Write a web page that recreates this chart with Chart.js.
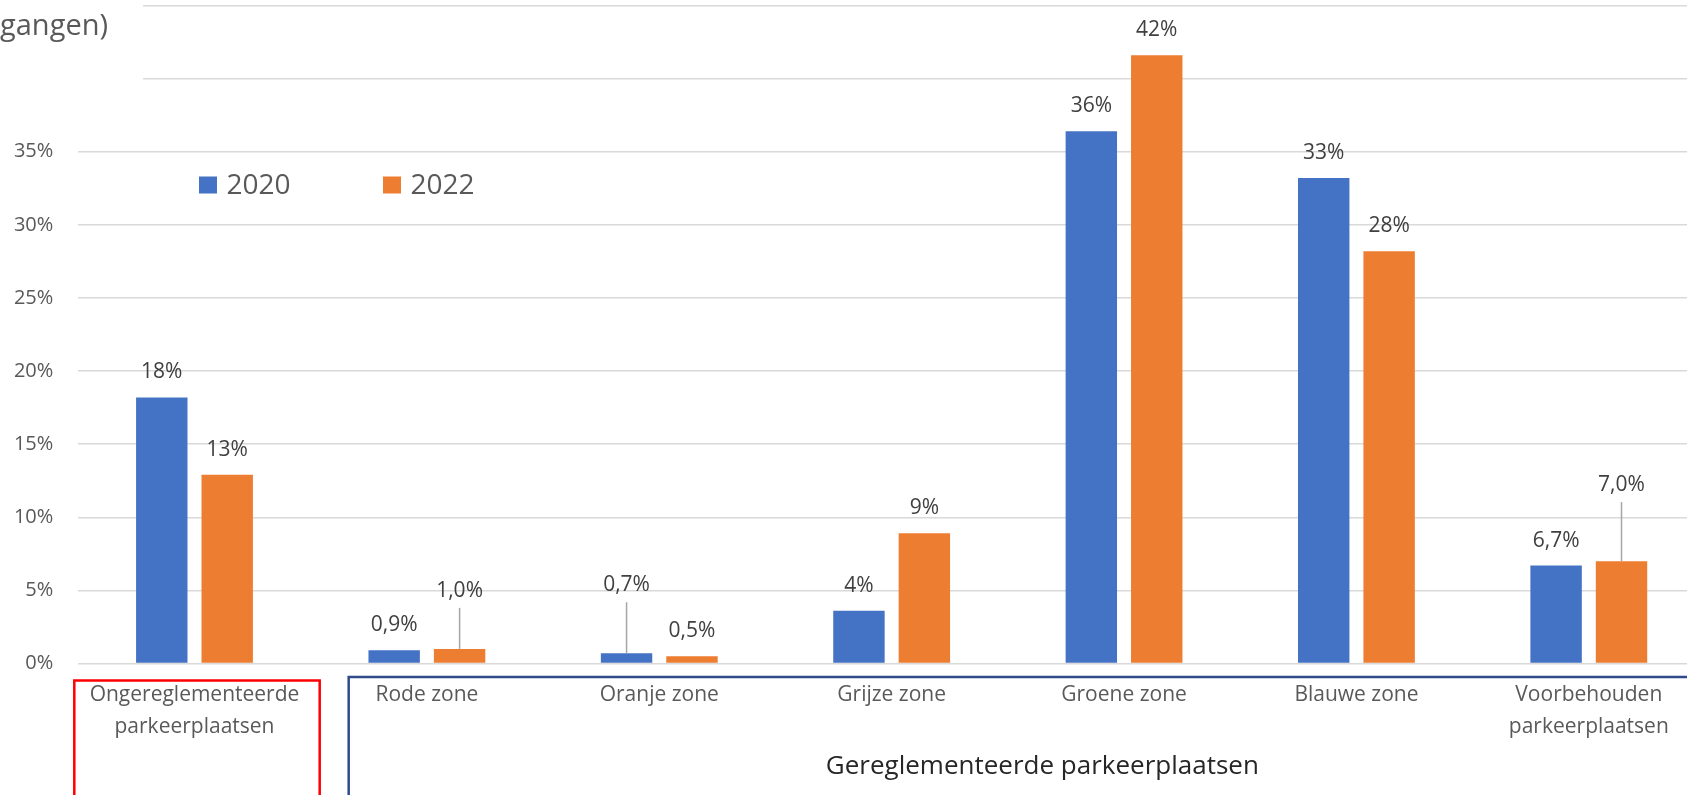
<!DOCTYPE html>
<html lang="nl">
<head>
<meta charset="utf-8">
<title>Parkeerplaatsen 2020 – 2022</title>
<script src="https://cdn.jsdelivr.net/npm/chart.js@4/dist/chart.umd.min.js"></script>
<style>
  html, body { margin: 0; padding: 0; background: #fff; overflow: hidden; width: 1687px; height: 795px; }
  #wrap { position: absolute; left: 0; top: -40px; width: 1705px; height: 835px; }
</style>
</head>
<body>
<div id="wrap"><canvas id="chart"></canvas></div>
<script>
// ---- data ----
const categories = [
  ['Ongereglementeerde', 'parkeerplaatsen'],
  'Rode zone',
  'Oranje zone',
  'Grijze zone',
  'Groene zone',
  'Blauwe zone',
  ['Voorbehouden', 'parkeerplaatsen']
];
const seriesNames = ['2020', '2022'];
const values2020 = [18.2, 0.9, 0.7, 3.6, 36.4, 33.2, 6.7];
const values2022 = [12.9, 1.0, 0.5, 8.9, 41.6, 28.2, 7.0];
const labelDecimals = [0, 1, 1, 0, 0, 0, 1];
const yTickValues = [0, 5, 10, 15, 20, 25, 30, 35, 40, 45];
const groupLabel = 'Gereglementeerde parkeerplaatsen';
const titleFragment = 'gangen)';

// ---- styling ----
const FONT = "'Open Sans', 'Noto Sans', sans-serif";
const GREY = '#595959';
const COLORS = ['#4472C4', '#ED7D31'];

const pct = (v, d) => v.toFixed(d).replace('.', ',') + '%';

// labels that sit higher with a thin leader line: [dataset, index, lift above bar top]
const leaders = [
  { ds: 1, idx: 1, lift: 58 },
  { ds: 0, idx: 2, lift: 68 },
  { ds: 1, idx: 6, lift: 76 }
];

const valueLabels = {
  id: 'valueLabels',
  afterDatasetsDraw(chart) {
    const ctx = chart.ctx;
    ctx.save();
    ctx.font = `21px ${FONT}`;
    ctx.fillStyle = '#404040';
    ctx.textAlign = 'center';
    ctx.textBaseline = 'middle';
    chart.data.datasets.forEach((ds, i) => {
      chart.getDatasetMeta(i).data.forEach((bar, j) => {
        const lead = leaders.find(l => l.ds === i && l.idx === j);
        const text = pct(ds.data[j], labelDecimals[j]);
        if (lead) {
          const ly = bar.y - lead.lift;
          ctx.strokeStyle = '#a6a6a6';
          ctx.lineWidth = 1.5;
          ctx.beginPath();
          ctx.moveTo(bar.x, ly + 17);
          ctx.lineTo(bar.x, bar.y);
          ctx.stroke();
          ctx.fillText(text, bar.x, ly);
        } else {
          ctx.fillText(text, bar.x, bar.y - 25);
        }
      });
    });
    ctx.restore();
  }
};

const decorations = {
  id: 'decorations',
  afterDraw(chart) {
    const { ctx, chartArea, scales } = chart;
    const x = scales.x;
    const cw = x.getPixelForValue(1) - x.getPixelForValue(0);
    const slotL = i => x.getPixelForValue(i) - cw / 2;
    const slotR = i => x.getPixelForValue(i) + cw / 2;
    const bottom = chart.height + 10;
    ctx.save();

    // bracket around unregulated spaces
    ctx.lineWidth = 2.5;
    ctx.strokeStyle = '#FF0000';
    const rTop = chartArea.bottom + 17;
    ctx.beginPath();
    ctx.moveTo(slotL(0) - 4, bottom);
    ctx.lineTo(slotL(0) - 4, rTop);
    ctx.lineTo(slotR(0) + 9, rTop);
    ctx.lineTo(slotR(0) + 9, bottom);
    ctx.stroke();

    // bracket around regulated zones
    ctx.strokeStyle = '#2F4B8C';
    const bTop = chartArea.bottom + 13.5;
    const bL = slotL(1) + 38, bR = slotR(6) + 31;
    ctx.beginPath();
    ctx.moveTo(bL, bottom);
    ctx.lineTo(bL, bTop);
    ctx.lineTo(bR, bTop);
    ctx.lineTo(bR, bottom);
    ctx.stroke();

    ctx.font = `26px ${FONT}`;
    ctx.fillStyle = '#262626';
    ctx.textAlign = 'center';
    ctx.textBaseline = 'middle';
    ctx.fillText(groupLabel, (bL + bR) / 2, chartArea.bottom + 103.5);

    // title strip over the top-left corner
    ctx.fillStyle = '#fff';
    ctx.fillRect(0, 0, 143, chartArea.top + 78.5);
    ctx.font = `29px ${FONT}`;
    ctx.fillStyle = GREY;
    ctx.textAlign = 'left';
    ctx.textBaseline = 'alphabetic';
    ctx.fillText(titleFragment, 0, chartArea.top + 29.5);

    // legend
    ctx.font = `28px ${FONT}`;
    ctx.textBaseline = 'middle';
    const ly = chartArea.top + 179.5;
    const lx = [199, 383];
    chart.data.datasets.forEach((ds, i) => {
      ctx.fillStyle = ds.backgroundColor;
      ctx.fillRect(lx[i], ly - 8.5, 18, 17);
      ctx.fillStyle = GREY;
      ctx.fillText(ds.label, lx[i] + 27.5, ly + 1);
    });
    ctx.restore();
  }
};

new Chart(document.getElementById('chart'), {
  type: 'bar',
  data: {
    labels: categories,
    datasets: [
      { label: seriesNames[0], data: values2020, backgroundColor: COLORS[0] },
      { label: seriesNames[1], data: values2022, backgroundColor: COLORS[1] }
    ]
  },
  options: {
    responsive: true,
    maintainAspectRatio: false,
    animation: false,
    events: [],
    layout: { padding: { top: 45.5, left: 0, right: 0, bottom: 0 } },
    datasets: { bar: { categoryPercentage: 0.563, barPercentage: 0.786 } },
    plugins: { legend: { display: false }, tooltip: { enabled: false } },
    scales: {
      x: {
        grid: { display: false, drawTicks: false },
        border: { display: false },
        ticks: {
          color: GREY,
          font: { family: FONT, size: 21, lineHeight: 1.52 },
          padding: 15.5,
          maxRotation: 0,
          autoSkip: false
        },
        afterFit(scale) { scale.height = 131.5; }
      },
      y: {
        min: 0,
        max: 45,
        afterBuildTicks(scale) { scale.ticks = yTickValues.map(v => ({ value: v })); },
        grid: { color: '#d9d9d9', lineWidth: 1.5, drawTicks: false },
        border: { display: false },
        ticks: {
          color: GREY,
          font: { family: FONT, size: 20 },
          padding: 25,
          callback: v => v + '%'
        },
        afterFit(scale) { scale.width = 78.3; }
      }
    }
  },
  plugins: [valueLabels, decorations]
});
</script>
</body>
</html>
